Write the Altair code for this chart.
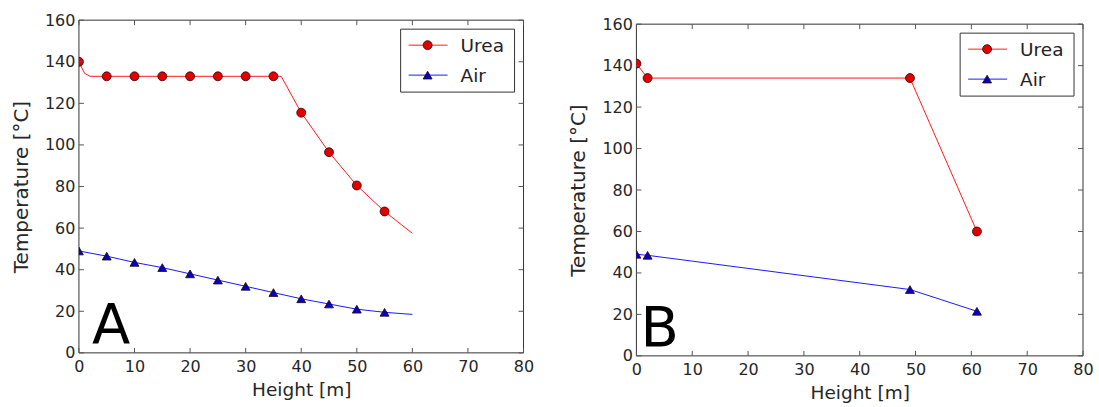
import altair as alt
import pandas as pd

# ---------------- data ----------------
series_names = ["Urea", "Air"]

# Panel A (markers every 5 m, smooth model line to 60 m)
a_mark_x = [0, 5, 10, 15, 20, 25, 30, 35, 40, 45, 50, 55]
a_urea_mark_y = [140, 133, 133, 133, 133, 133, 133, 133, 115.5, 96.5, 80.5, 68]
a_air_mark_y = [49, 46.5, 43.5, 41, 38, 35, 32, 29, 26, 23.5, 21, 19.5]
a_urea_line_x = [0, 1, 2, 36.4, 40, 45, 50, 55, 60]
a_urea_line_y = [140, 134.5, 133, 133, 115.5, 96.5, 80.5, 68, 57.5]
a_air_line_x = [0, 5, 10, 15, 20, 25, 30, 35, 40, 45, 50, 55, 60]
a_air_line_y = [49, 46.5, 43.5, 41, 38, 35, 32, 29, 26, 23.5, 21, 19.5, 18.5]

# Panel B
b_x = [0, 2, 49, 61]
b_urea_y = [141, 134, 134, 60]
b_air_y = [49, 48.5, 32, 21.5]

x_ticks = [0, 10, 20, 30, 40, 50, 60, 70, 80]
y_ticks = [0, 20, 40, 60, 80, 100, 120, 140, 160]

FONT = "DejaVu Sans"
LINE_COLORS = ["#ff1a1a", "#1a1aff"]
FILL_COLORS = ["#e00000", "#0000c8"]
SHAPES = ["circle", "triangle-up"]
FRAME_COLOR = "#333333"


def frame(xs, ys, names):
    return pd.DataFrame({"x": xs, "y": ys, "series": names})


def panel(lines_df, marks_df, letter, letter_x, w, H, y0, y1):
    """H: full view height; the drawn frame spans y0..y1 inside it."""
    xs = alt.Scale(domain=[0, 80], nice=False, zero=False)
    ys = alt.Scale(domain=[0, 160], nice=False, zero=False, range=[y1, y0])
    common = dict(format="d", labelFlush=False, labelBound=False, domain=False, ticks=False,
                  grid=False, labelOverlap=False, labelFont=FONT, titleFont=FONT,
                  labelFontSize=16, labelColor="#262626",
                  titleColor="#262626", titleFontWeight="normal")
    x_axis = alt.Axis(values=x_ticks, labelPadding=6, titlePadding=6, titleFontSize=18.5,
                      offset=y1 - H, title="Height [m]", **common)
    y_axis = alt.Axis(values=y_ticks, labelPadding=4, titlePadding=13, titleFontSize=20,
                      title="Temperature [°C]", **common)

    def X(f):
        return alt.X(f, scale=xs, axis=x_axis, title="Height [m]")

    def Y(f):
        return alt.Y(f, scale=ys, axis=y_axis, title="Temperature [°C]")

    col = alt.Color("series:N", scale=alt.Scale(domain=series_names, range=LINE_COLORS), legend=None)

    frame_rect = alt.Chart(pd.DataFrame({"a": [0]})).mark_rect(
        fill="white", stroke=FRAME_COLOR, strokeWidth=1).encode(
        x=alt.value(0), x2=alt.value(w), y=alt.value(y0), y2=alt.value(y1))

    lines = alt.Chart(lines_df).mark_line(strokeWidth=1).encode(
        x=X("x:Q"), y=Y("y:Q"), color=col,
    )
    points = alt.Chart(marks_df).mark_point(filled=True, size=80, opacity=1, stroke="#300000",
                                            strokeWidth=0.8, clip=True).encode(
        x=X("x:Q"), y=Y("y:Q"),
        shape=alt.Shape("series:N", scale=alt.Scale(domain=series_names, range=SHAPES), legend=None),
        fill=alt.Fill("series:N", scale=alt.Scale(domain=series_names, range=FILL_COLORS), legend=None),
    )

    tx = pd.DataFrame({"x": x_ticks})
    ty = pd.DataFrame({"y": y_ticks})
    tick_style = dict(color="#555555", strokeWidth=1)
    ticks = [
        alt.Chart(tx).mark_rule(**tick_style).encode(
            x=X("x:Q"), y=alt.value(y1), y2=alt.value(y1 - 5)),
        alt.Chart(tx).mark_rule(**tick_style).encode(
            x=X("x:Q"), y=alt.value(y0), y2=alt.value(y0 + 5)),
        alt.Chart(ty).mark_rule(**tick_style).encode(
            y=Y("y:Q"), x=alt.value(0), x2=alt.value(5)),
        alt.Chart(ty).mark_rule(**tick_style).encode(
            y=Y("y:Q"), x=alt.value(w), x2=alt.value(w - 5)),
    ]

    letter_chart = alt.Chart(pd.DataFrame({"t": [letter]})).mark_text(
        font=FONT, fontSize=56, align="left", baseline="alphabetic", color="black").encode(
        text="t:N", x=alt.value(letter_x), y=alt.value(y1 - 10))

    # legend (matplotlib-style box with line + marker)
    lx0, lx1, ly0, ly1 = w - 123, w - 9, y0 + 9, y0 + 72
    box = alt.Chart(pd.DataFrame({"a": [0]})).mark_rect(
        fill="white", stroke=FRAME_COLOR, strokeWidth=1).encode(
        x=alt.value(lx0), x2=alt.value(lx1), y=alt.value(ly0), y2=alt.value(ly1))
    leg = [box]
    for i, name in enumerate(series_names):
        ry = y0 + 25 + 30 * i
        d = pd.DataFrame({"label": [name]})
        leg.append(alt.Chart(d).mark_rule(color=LINE_COLORS[i], strokeWidth=1).encode(
            x=alt.value(lx0 + 8), x2=alt.value(lx0 + 47), y=alt.value(ry)))
        leg.append(alt.Chart(d).mark_point(filled=True, size=80, opacity=1, shape=SHAPES[i],
                                           fill=FILL_COLORS[i], stroke="#300000",
                                           strokeWidth=0.8).encode(
            x=alt.value(lx0 + 27), y=alt.value(ry)))
        leg.append(alt.Chart(d).mark_text(font=FONT, fontSize=18.5, align="left",
                                          baseline="middle", color="#222222").encode(
            text="label:N", x=alt.value(lx0 + 60), y=alt.value(ry + 1)))

    layers = [frame_rect, lines, points, *ticks, letter_chart, *leg]
    return alt.layer(*layers).properties(width=w, height=H)


names_a_line = ["Urea"] * len(a_urea_line_x) + ["Air"] * len(a_air_line_x)
a_lines = frame(a_urea_line_x + a_air_line_x, a_urea_line_y + a_air_line_y, names_a_line)
a_marks = frame(a_mark_x + a_mark_x, a_urea_mark_y + a_air_mark_y,
                ["Urea"] * len(a_mark_x) + ["Air"] * len(a_mark_x))
b_lines = frame(b_x + b_x, b_urea_y + b_air_y, ["Urea"] * len(b_x) + ["Air"] * len(b_x))

pa = panel(a_lines, a_marks, "A", 13, 445, 336, 0, 333)
pb = panel(b_lines, b_lines, "B", 4, 447, 336, 4, 336)

chart = alt.hconcat(pa, pb, spacing=34).properties(
    padding={"left": 11, "top": 12, "right": 5, "bottom": 5},
    background="white",
).configure_view(stroke="transparent", strokeWidth=0)

chart.save("out.html", embed_options={"renderer": "svg", "actions": False})
